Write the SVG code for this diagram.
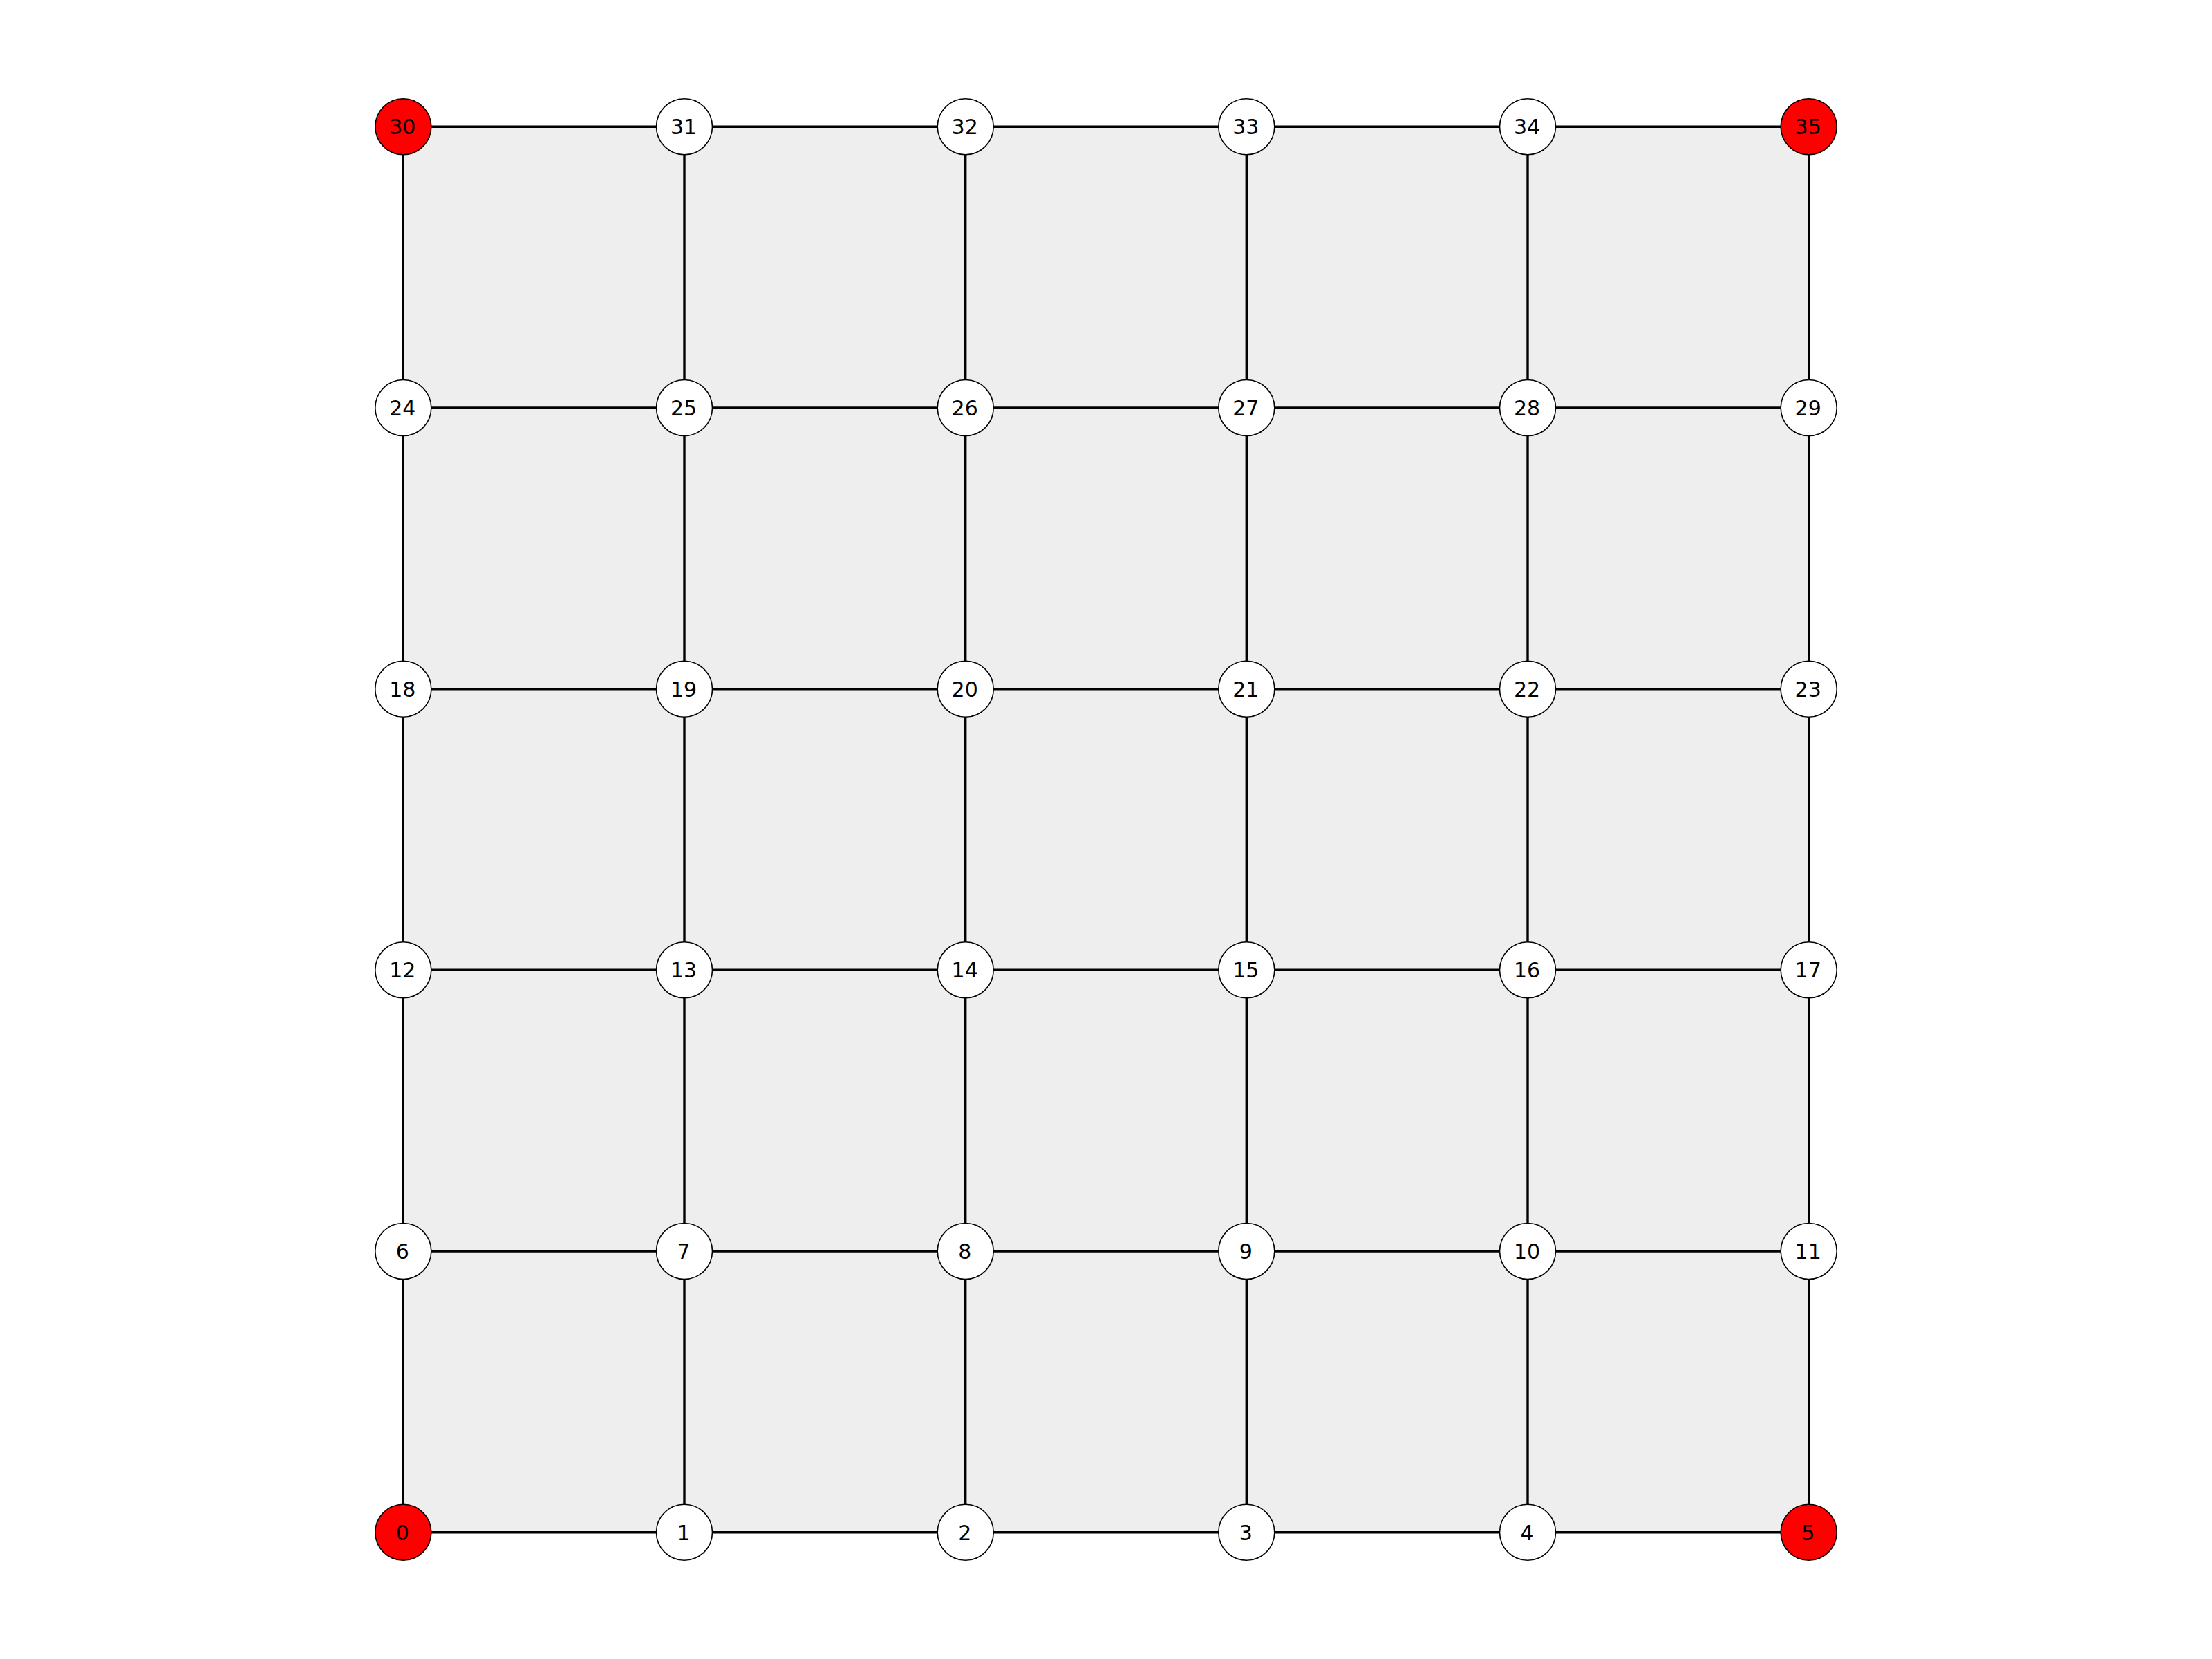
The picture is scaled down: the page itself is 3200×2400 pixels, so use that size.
<svg xmlns="http://www.w3.org/2000/svg" width="3200" height="2400" viewBox="0 0 3200 2400">
<style>
.e{stroke:#000;stroke-width:3.4;fill:none}
.n circle{fill:#fff;stroke:#000;stroke-width:1.6}
.n.r circle{fill:#ff0000}
.n text{font-family:"DejaVu Sans",sans-serif;font-size:30px;text-anchor:middle;fill:#000}
</style>
<rect width="3200" height="2400" fill="#fff"/>
<rect x="583.3" y="183.3" width="2033.4" height="2033.4" fill="#eeeeee"/>
<g id="edges" class="e">
<line x1="583.3" y1="2216.7" x2="990" y2="2216.7"/><line x1="990" y1="2216.7" x2="1396.7" y2="2216.7"/><line x1="1396.7" y1="2216.7" x2="1803.3" y2="2216.7"/><line x1="1803.3" y1="2216.7" x2="2210" y2="2216.7"/><line x1="2210" y1="2216.7" x2="2616.7" y2="2216.7"/>
<line x1="583.3" y1="1810" x2="990" y2="1810"/><line x1="990" y1="1810" x2="1396.7" y2="1810"/><line x1="1396.7" y1="1810" x2="1803.3" y2="1810"/><line x1="1803.3" y1="1810" x2="2210" y2="1810"/><line x1="2210" y1="1810" x2="2616.7" y2="1810"/>
<line x1="583.3" y1="1403.3" x2="990" y2="1403.3"/><line x1="990" y1="1403.3" x2="1396.7" y2="1403.3"/><line x1="1396.7" y1="1403.3" x2="1803.3" y2="1403.3"/><line x1="1803.3" y1="1403.3" x2="2210" y2="1403.3"/><line x1="2210" y1="1403.3" x2="2616.7" y2="1403.3"/>
<line x1="583.3" y1="996.7" x2="990" y2="996.7"/><line x1="990" y1="996.7" x2="1396.7" y2="996.7"/><line x1="1396.7" y1="996.7" x2="1803.3" y2="996.7"/><line x1="1803.3" y1="996.7" x2="2210" y2="996.7"/><line x1="2210" y1="996.7" x2="2616.7" y2="996.7"/>
<line x1="583.3" y1="590" x2="990" y2="590"/><line x1="990" y1="590" x2="1396.7" y2="590"/><line x1="1396.7" y1="590" x2="1803.3" y2="590"/><line x1="1803.3" y1="590" x2="2210" y2="590"/><line x1="2210" y1="590" x2="2616.7" y2="590"/>
<line x1="583.3" y1="183.3" x2="990" y2="183.3"/><line x1="990" y1="183.3" x2="1396.7" y2="183.3"/><line x1="1396.7" y1="183.3" x2="1803.3" y2="183.3"/><line x1="1803.3" y1="183.3" x2="2210" y2="183.3"/><line x1="2210" y1="183.3" x2="2616.7" y2="183.3"/>
<line x1="583.3" y1="2216.7" x2="583.3" y2="1810"/><line x1="583.3" y1="1810" x2="583.3" y2="1403.3"/><line x1="583.3" y1="1403.3" x2="583.3" y2="996.7"/><line x1="583.3" y1="996.7" x2="583.3" y2="590"/><line x1="583.3" y1="590" x2="583.3" y2="183.3"/>
<line x1="990" y1="2216.7" x2="990" y2="1810"/><line x1="990" y1="1810" x2="990" y2="1403.3"/><line x1="990" y1="1403.3" x2="990" y2="996.7"/><line x1="990" y1="996.7" x2="990" y2="590"/><line x1="990" y1="590" x2="990" y2="183.3"/>
<line x1="1396.7" y1="2216.7" x2="1396.7" y2="1810"/><line x1="1396.7" y1="1810" x2="1396.7" y2="1403.3"/><line x1="1396.7" y1="1403.3" x2="1396.7" y2="996.7"/><line x1="1396.7" y1="996.7" x2="1396.7" y2="590"/><line x1="1396.7" y1="590" x2="1396.7" y2="183.3"/>
<line x1="1803.3" y1="2216.7" x2="1803.3" y2="1810"/><line x1="1803.3" y1="1810" x2="1803.3" y2="1403.3"/><line x1="1803.3" y1="1403.3" x2="1803.3" y2="996.7"/><line x1="1803.3" y1="996.7" x2="1803.3" y2="590"/><line x1="1803.3" y1="590" x2="1803.3" y2="183.3"/>
<line x1="2210" y1="2216.7" x2="2210" y2="1810"/><line x1="2210" y1="1810" x2="2210" y2="1403.3"/><line x1="2210" y1="1403.3" x2="2210" y2="996.7"/><line x1="2210" y1="996.7" x2="2210" y2="590"/><line x1="2210" y1="590" x2="2210" y2="183.3"/>
<line x1="2616.7" y1="2216.7" x2="2616.7" y2="1810"/><line x1="2616.7" y1="1810" x2="2616.7" y2="1403.3"/><line x1="2616.7" y1="1403.3" x2="2616.7" y2="996.7"/><line x1="2616.7" y1="996.7" x2="2616.7" y2="590"/><line x1="2616.7" y1="590" x2="2616.7" y2="183.3"/>
</g>
<g id="n0" class="n r"><circle cx="583.3" cy="2216.7" r="40.5"/><text x="582.3" y="2227.5">0</text></g>
<g id="n1" class="n"><circle cx="990" cy="2216.7" r="40.5"/><text x="989" y="2227.5">1</text></g>
<g id="n2" class="n"><circle cx="1396.7" cy="2216.7" r="40.5"/><text x="1395.7" y="2227.5">2</text></g>
<g id="n3" class="n"><circle cx="1803.3" cy="2216.7" r="40.5"/><text x="1802.3" y="2227.5">3</text></g>
<g id="n4" class="n"><circle cx="2210" cy="2216.7" r="40.5"/><text x="2209" y="2227.5">4</text></g>
<g id="n5" class="n r"><circle cx="2616.7" cy="2216.7" r="40.5"/><text x="2615.7" y="2227.5">5</text></g>
<g id="n6" class="n"><circle cx="583.3" cy="1810" r="40.5"/><text x="582.3" y="1820.8">6</text></g>
<g id="n7" class="n"><circle cx="990" cy="1810" r="40.5"/><text x="989" y="1820.8">7</text></g>
<g id="n8" class="n"><circle cx="1396.7" cy="1810" r="40.5"/><text x="1395.7" y="1820.8">8</text></g>
<g id="n9" class="n"><circle cx="1803.3" cy="1810" r="40.5"/><text x="1802.3" y="1820.8">9</text></g>
<g id="n10" class="n"><circle cx="2210" cy="1810" r="40.5"/><text x="2209" y="1820.8">10</text></g>
<g id="n11" class="n"><circle cx="2616.7" cy="1810" r="40.5"/><text x="2615.7" y="1820.8">11</text></g>
<g id="n12" class="n"><circle cx="583.3" cy="1403.3" r="40.5"/><text x="582.3" y="1414.1">12</text></g>
<g id="n13" class="n"><circle cx="990" cy="1403.3" r="40.5"/><text x="989" y="1414.1">13</text></g>
<g id="n14" class="n"><circle cx="1396.7" cy="1403.3" r="40.5"/><text x="1395.7" y="1414.1">14</text></g>
<g id="n15" class="n"><circle cx="1803.3" cy="1403.3" r="40.5"/><text x="1802.3" y="1414.1">15</text></g>
<g id="n16" class="n"><circle cx="2210" cy="1403.3" r="40.5"/><text x="2209" y="1414.1">16</text></g>
<g id="n17" class="n"><circle cx="2616.7" cy="1403.3" r="40.5"/><text x="2615.7" y="1414.1">17</text></g>
<g id="n18" class="n"><circle cx="583.3" cy="996.7" r="40.5"/><text x="582.3" y="1007.5">18</text></g>
<g id="n19" class="n"><circle cx="990" cy="996.7" r="40.5"/><text x="989" y="1007.5">19</text></g>
<g id="n20" class="n"><circle cx="1396.7" cy="996.7" r="40.5"/><text x="1395.7" y="1007.5">20</text></g>
<g id="n21" class="n"><circle cx="1803.3" cy="996.7" r="40.5"/><text x="1802.3" y="1007.5">21</text></g>
<g id="n22" class="n"><circle cx="2210" cy="996.7" r="40.5"/><text x="2209" y="1007.5">22</text></g>
<g id="n23" class="n"><circle cx="2616.7" cy="996.7" r="40.5"/><text x="2615.7" y="1007.5">23</text></g>
<g id="n24" class="n"><circle cx="583.3" cy="590" r="40.5"/><text x="582.3" y="600.8">24</text></g>
<g id="n25" class="n"><circle cx="990" cy="590" r="40.5"/><text x="989" y="600.8">25</text></g>
<g id="n26" class="n"><circle cx="1396.7" cy="590" r="40.5"/><text x="1395.7" y="600.8">26</text></g>
<g id="n27" class="n"><circle cx="1803.3" cy="590" r="40.5"/><text x="1802.3" y="600.8">27</text></g>
<g id="n28" class="n"><circle cx="2210" cy="590" r="40.5"/><text x="2209" y="600.8">28</text></g>
<g id="n29" class="n"><circle cx="2616.7" cy="590" r="40.5"/><text x="2615.7" y="600.8">29</text></g>
<g id="n30" class="n r"><circle cx="583.3" cy="183.3" r="40.5"/><text x="582.3" y="194.1">30</text></g>
<g id="n31" class="n"><circle cx="990" cy="183.3" r="40.5"/><text x="989" y="194.1">31</text></g>
<g id="n32" class="n"><circle cx="1396.7" cy="183.3" r="40.5"/><text x="1395.7" y="194.1">32</text></g>
<g id="n33" class="n"><circle cx="1803.3" cy="183.3" r="40.5"/><text x="1802.3" y="194.1">33</text></g>
<g id="n34" class="n"><circle cx="2210" cy="183.3" r="40.5"/><text x="2209" y="194.1">34</text></g>
<g id="n35" class="n r"><circle cx="2616.7" cy="183.3" r="40.5"/><text x="2615.7" y="194.1">35</text></g>
</svg>
